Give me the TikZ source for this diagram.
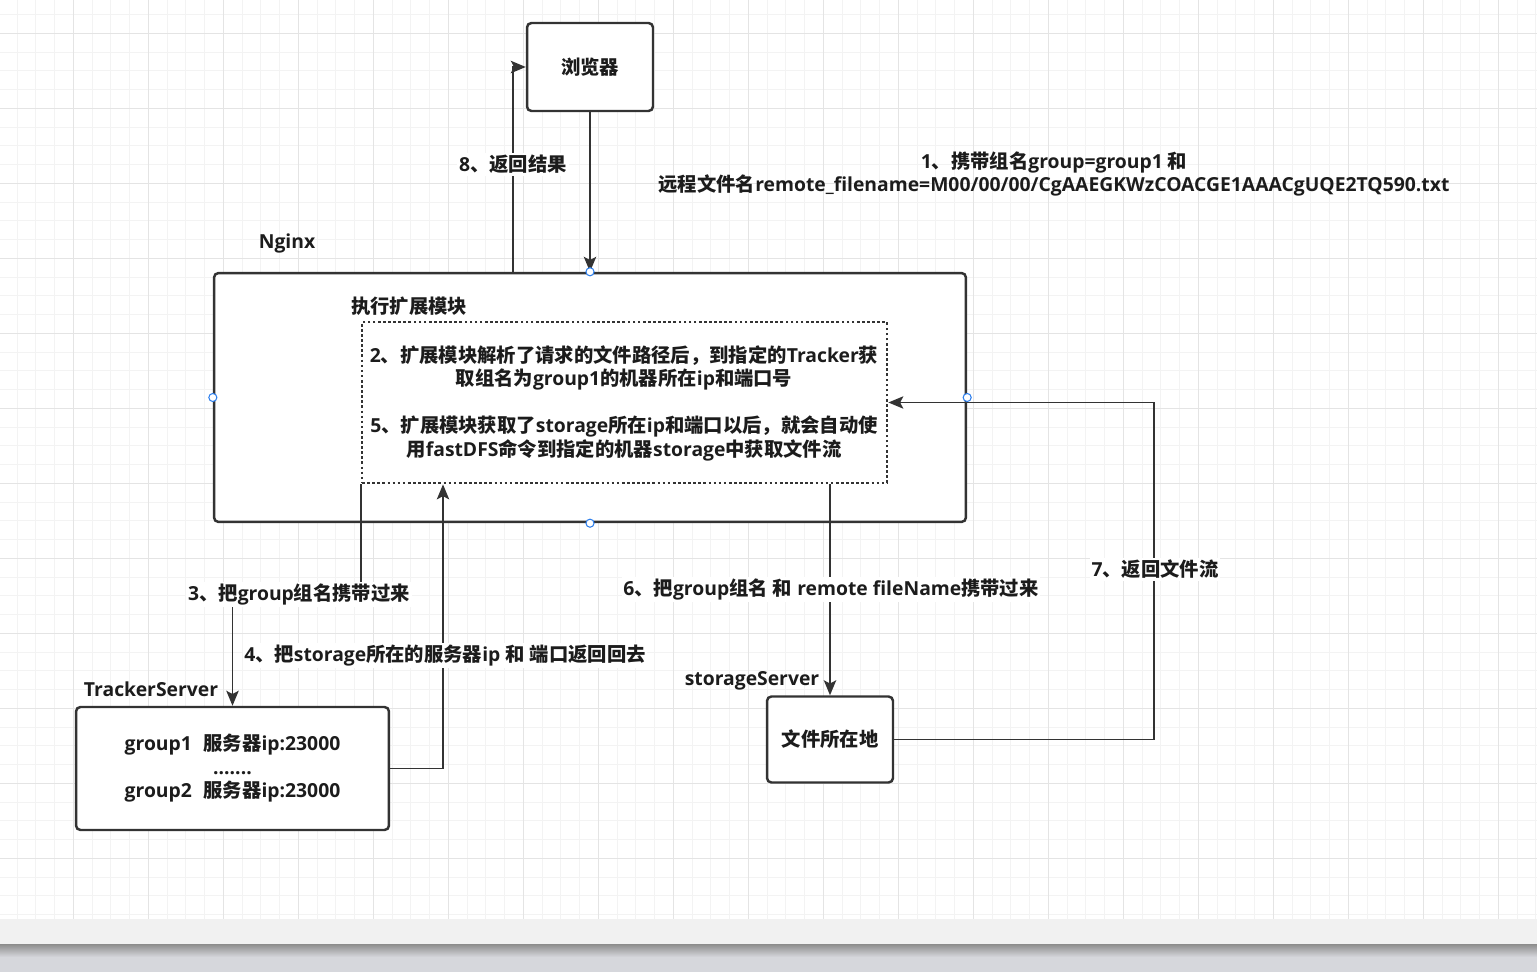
\documentclass[tikz,border=0pt]{standalone}
\usepackage{fontspec}
\setmainfont{Open Sans}
\newfontfamily\zhfont{Noto Sans CJK SC}
\newcommand\zh[1]{{\zhfont #1}}
\usetikzlibrary{arrows.meta,positioning,calc}
\definecolor{linegray}{HTML}{333333}
\definecolor{txtgray}{HTML}{1C1C1C}
\definecolor{minorline}{HTML}{F3F3F3}
\definecolor{majorline}{HTML}{E4E4E4}
\definecolor{pinblue}{HTML}{2F80ED}
\definecolor{barlight}{HTML}{F1F1F1}
\definecolor{bardark}{HTML}{D6D7DC}

\begin{document}
\begin{tikzpicture}[x=0.02cm,y=-0.02cm,
  every node/.style={font=\fontsize{11pt}{13.4pt}\selectfont\bfseries,text=txtgray},
  box/.style={shape=rectangle,draw=linegray,line width=1.4pt,rounded corners=2.5pt,fill=white},
  flow/.style={draw=linegray,line width=1.1pt,-{Stealth[length=8.5pt,width=7pt,inset=1.8pt]}},
  tag/.style={fill=white,inner sep=1pt},
  pin/.style={draw=pinblue,fill=white,line width=0.6pt}]
\useasboundingbox (0,0) rectangle (1537,972);
\fill[white] (0,0) rectangle (1537,919);

% grid of the canvas
\foreach \i in {0,...,82} \draw[minorline,line width=0.55pt] ({-1.7+18.75*\i},0) -- ++(0,919);
\foreach \j in {0,...,49} \draw[minorline,line width=0.55pt] (0,{-4.2+18.75*\j}) -- ++(1537,0);
\foreach \i in {0,...,21} \draw[majorline,line width=0.55pt] ({-1.7+75*\i},0) -- ++(0,919);
\foreach \j in {0,...,12} \draw[majorline,line width=0.55pt] (0,{33.3+75*\j}) -- ++(1537,0);
\fill[barlight] (0,919) rectangle (1537,944);
\fill[bardark] (0,944) rectangle (1537,972);
\shade[top color=black!45,bottom color=bardark] (0,944) rectangle (1537,957);

% boxes
\node[box,minimum width=2.52cm,minimum height=1.76cm] (browser) at (590,67) {\zh{浏览器}};
\node[box,minimum width=15.04cm,minimum height=4.98cm] (nginx) at (590,397.5) {};
\node[shape=rectangle,draw=linegray,line width=1.6pt,dash pattern=on 1.5pt off 1.4pt,
      minimum width=10.5cm,minimum height=3.22cm] (ext) at (624.5,402.5) {};
\node[box,minimum width=6.26cm,minimum height=2.46cm,align=center] (tracker) at (232.5,768.5)
  {group1\hspace{0.6em}\zh{服务器}ip:23000\\.......\\group2\hspace{0.6em}\zh{服务器}ip:23000};
\node[box,minimum width=2.52cm,minimum height=1.72cm] (storage) at (830,739.5) {\zh{文件所在地}};

% titles
\node (nginxname) at (287,243) {Nginx};
\node (extname) at (409,306) {\zh{执行扩展模块}};
\node (trackername) at (151,689) {TrackerServer};
\node (storagename) at (752,681) {storageServer};
\node[align=center] (note2) at (624,368)
  {2\zh{、扩展模块解析了请求的文件路径后，到指定的}Tracker\zh{获}\\
   \zh{取组名为}group1\zh{的机器所在}ip\zh{和端口号}};
\node[align=center] (note5) at (624,438.5)
  {5\zh{、扩展模块获取了}storage\zh{所在}ip\zh{和端口以后，就会自动使}\\
   \zh{用}fastDFS\zh{命令到指定的机器}storage\zh{中获取文件流}};
\node[align=center] (request) at (1054,174)
  {1\zh{、携带组名}group=group1 \zh{和}\\
   \zh{远程文件名}remote\_filename=M00/00/00/CgAAEGKWzCOACGE1AAACgUQE2TQ590.txt};

% connectors
\coordinate (turn7) at (1154,402.5);
\draw[flow] (browser.south) -- (nginx.north);
\draw[flow] (nginx.north -| 513,0) |- (browser.west);
\draw[flow] (ext.south west) -- (ext.south west |- 0,594) -| (tracker.north);
\draw[flow] (tracker.east) -| (ext.south -| 443,0);
\draw[flow] (ext.south -| storage.north) -- (storage.north);
\draw[flow] (storage.east) -| (turn7) -- (ext.east);

% edge labels
\node[tag] (back) at (513,164.5) {8\zh{、返回结果}};
\node[tag] (askgroup) at (299,594.5) {3\zh{、把}group\zh{组名携带过来}};
\node[tag] (giveip) at (445,655.5) {4\zh{、把}storage\zh{所在的服务器}ip \zh{和} \zh{端口返回回去}};
\node[tag] (askfile) at (831,589.5) {6\zh{、把}group\zh{组名} \zh{和} remote fileName\zh{携带过来}};
\node[tag] (stream) at (1155,569.5) {7\zh{、返回文件流}};

% connection points
\foreach \a in {north,south,east,west} \draw[pin] (nginx.\a) circle[radius=2.3pt];
\end{tikzpicture}
\end{document}
